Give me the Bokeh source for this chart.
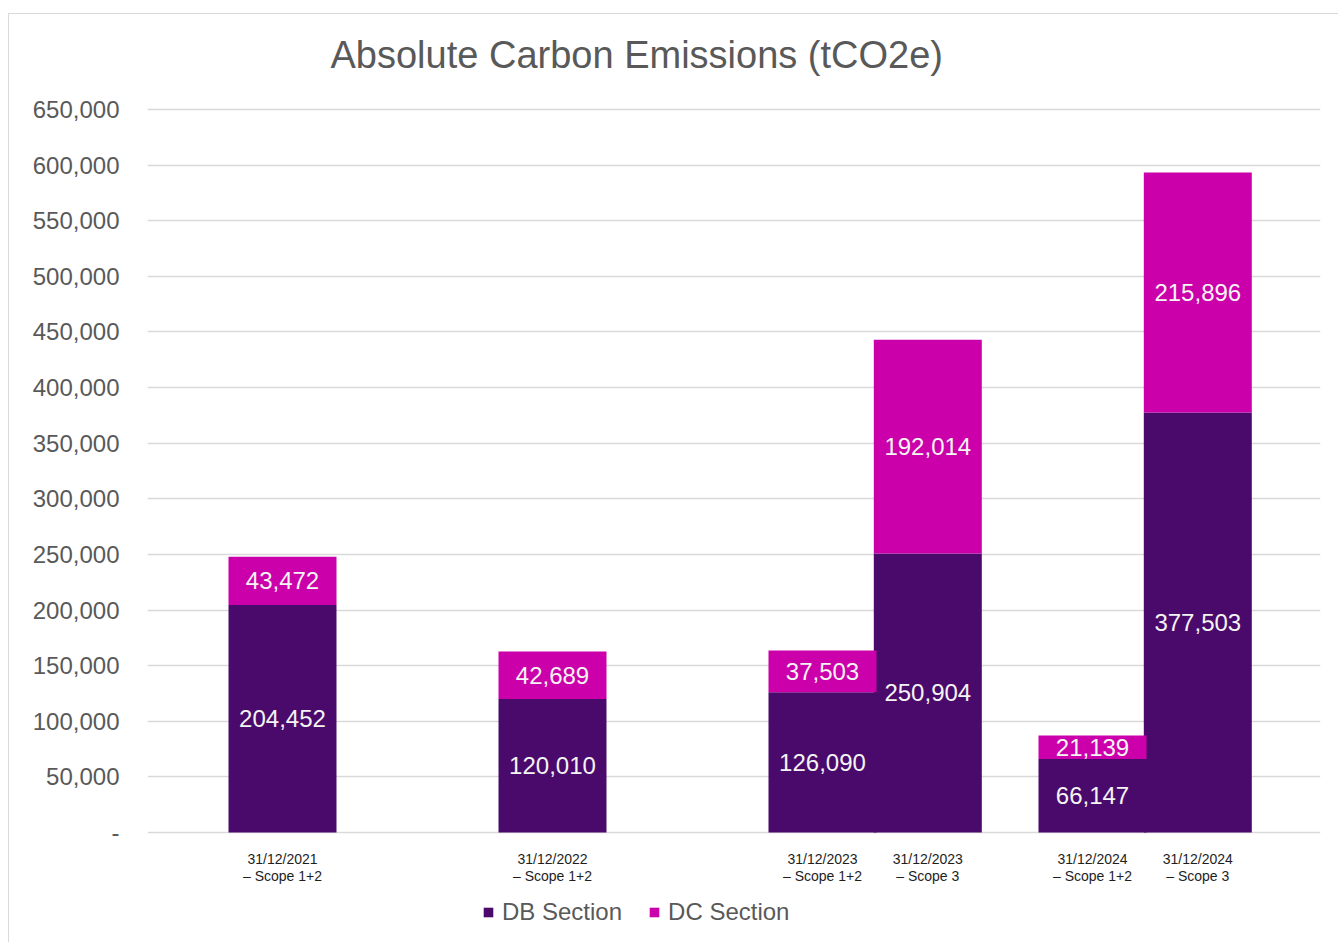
from bokeh.plotting import figure
from bokeh.models import (ColumnDataSource, Range1d, FixedTicker, NumeralTickFormatter,
                          Legend, LegendItem, Label)
from bokeh.core.properties import value
from bokeh.embed import file_html
from bokeh.resources import INLINE

# Reporting periods, one entry per bar
bar_labels = [
    "31/12/2021\n– Scope 1+2",
    "31/12/2022\n– Scope 1+2",
    "31/12/2023\n– Scope 1+2",
    "31/12/2023\n– Scope 3",
    "31/12/2024\n– Scope 1+2",
    "31/12/2024\n– Scope 3",
]
group_index = [0, 1, 2, 2, 3, 3]   # reporting year slot
slot_index = [0, 0, 0, 1, 0, 1]    # position inside the year (scope 3 sits to the right)

db_section = [204452, 120010, 126090, 250904, 66147, 377503]
dc_section = [43472, 42689, 37503, 192014, 21139, 215896]

y_ticks = list(range(0, 650001, 50000))

FONT = "Liberation Sans"
DB_COLOR = "#4A0A6B"
DC_COLOR = "#CC00AA"
GREY = "#595959"

BAR_W = 0.4
SLOT_STEP = 0.39

# vertical scale: 650,000 spans 723 px; the frame runs the full canvas height so
# the title, the category labels and the legend can all sit inside it
PX_PER_UNIT = 723 / 650000
Y_END = 650000 + 95 / PX_PER_UNIT
Y_START = -111 / PX_PER_UNIT

x = [g + 0.5 + s * SLOT_STEP for g, s in zip(group_index, slot_index)]
db_mid = [v / 2 for v in db_section]
dc_mid = [d + c / 2 for d, c in zip(db_section, dc_section)]
top = [d + c for d, c in zip(db_section, dc_section)]

src = ColumnDataSource(dict(
    x=x, db=db_section, dc=dc_section, top=top,
    db_mid=db_mid, dc_mid=dc_mid, base=[0] * len(x), lab=bar_labels,
    db_txt=[f"{v:,}" for v in db_section],
    dc_txt=[f"{v:,}" for v in dc_section],
))

p = figure(width=1330, height=929, output_backend="svg", toolbar_location=None,
           x_range=Range1d(0, 1173 / 270), y_range=Range1d(Y_START, Y_END),
           min_border_left=138, min_border_right=19, min_border_top=0,
           min_border_bottom=0, outline_line_color=None,
           background_fill_color="white", border_fill_color="white")
p.styles = {"margin-left": "8px", "margin-top": "13px",
            "border-left": "1px solid #d9d9d9", "border-top": "1px solid #d9d9d9"}

title = Label(text="Absolute Carbon Emissions (tCO2e)", x=183, y=889,
              x_units="screen", y_units="screen", text_align="left",
              text_baseline="alphabetic", text_font=FONT, text_font_size="38px",
              text_color=GREY)
p.add_layout(title)

r_db = p.vbar(x="x", width=BAR_W, bottom=0, top="db", source=src,
              fill_color=DB_COLOR, line_color=None)
r_dc = p.vbar(x="x", width=BAR_W, bottom="db", top="top", source=src,
              fill_color=DC_COLOR, line_color=None)

for col_y, col_t in (("db_mid", "db_txt"), ("dc_mid", "dc_txt")):
    p.text(x="x", y=col_y, text=col_t, source=src, text_align="center",
           text_baseline="middle", text_font=value(FONT), text_font_size="24px",
           text_color="#F4F4F4")

# category labels under each bar
p.text(x="x", y="base", text="lab", source=src, y_offset=18,
       text_align="center", text_baseline="top", text_font=value(FONT),
       text_font_size="14px", text_color="#1E1E1E", text_line_height=1.1)

# axes
p.yaxis.ticker = FixedTicker(ticks=y_ticks)
p.yaxis.formatter = NumeralTickFormatter(format="0,0")
p.yaxis.major_label_overrides = {0: "-"}
p.yaxis.major_label_text_font = FONT
p.yaxis.major_label_text_font_size = "24px"
p.yaxis.major_label_text_color = GREY
p.yaxis.major_label_standoff = 22
p.yaxis.axis_line_color = None
p.yaxis.major_tick_line_color = None
p.yaxis.minor_tick_line_color = None
p.xaxis.visible = False

p.xgrid.grid_line_color = None
p.ygrid.grid_line_color = "#d9d9d9"
p.ygrid.grid_line_width = 1.5

legend = Legend(items=[LegendItem(label="DB Section", renderers=[r_db]),
                       LegendItem(label="DC Section", renderers=[r_dc])],
                orientation="horizontal", location=(335, 17),
                label_text_font=FONT, label_text_font_size="24px",
                label_text_color=GREY, glyph_width=12, glyph_height=12,
                label_standoff=8, spacing=26, border_line_color=None,
                background_fill_alpha=0, padding=4, margin=0)
p.add_layout(legend, "center")

open("out.html", "w").write(file_html(p, INLINE))
